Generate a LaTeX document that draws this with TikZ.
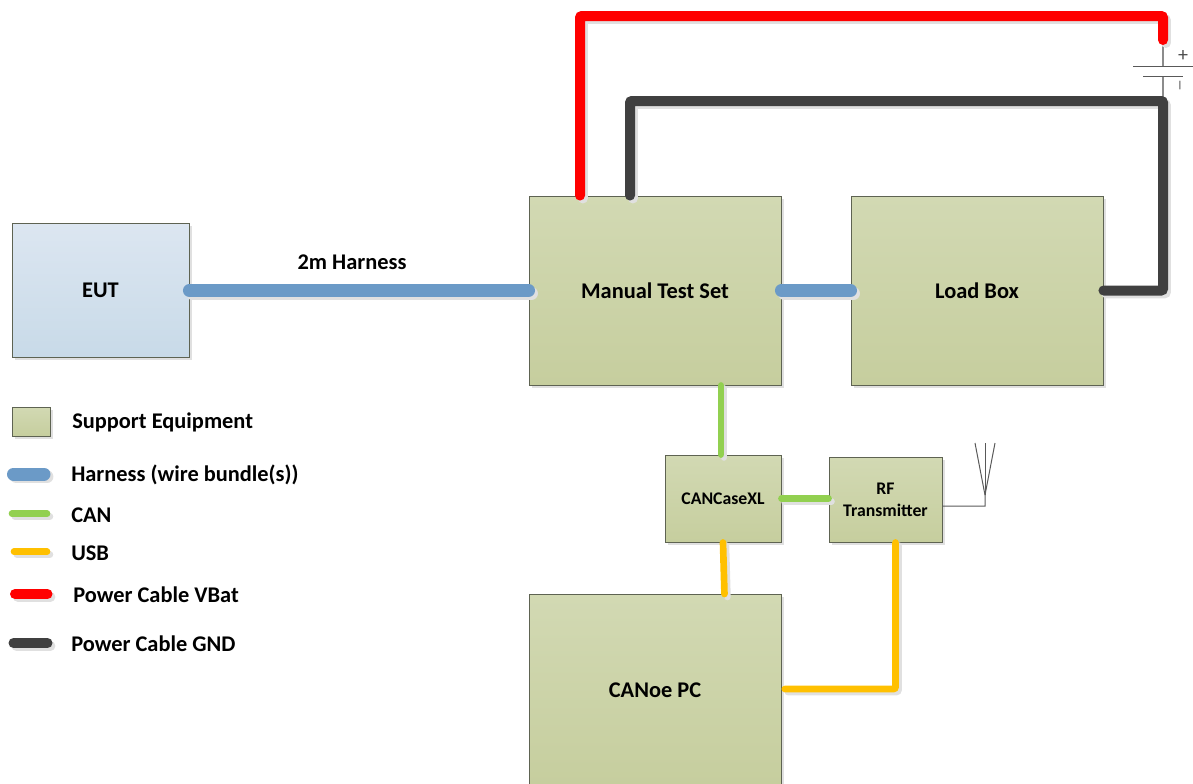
\documentclass[tikz,border=0pt]{standalone}
\usepackage{fontspec}
\setmainfont{Carlito}
\usetikzlibrary{positioning, calc, shadows}
\definecolor{color_box_top}{HTML}{D2D9B3}
\definecolor{color_box_bottom}{HTML}{C6CE9E}
\definecolor{color_box_line}{HTML}{5E6352}
\definecolor{color_eut_top}{HTML}{DCE6F1}
\definecolor{color_eut_bottom}{HTML}{C8DAE8}
\definecolor{color_harness}{HTML}{6B9AC7}
\definecolor{color_can}{HTML}{92D050}
\definecolor{color_usb}{HTML}{FFC000}
\definecolor{color_vbat}{HTML}{FF0000}
\definecolor{color_gnd}{HTML}{404040}
\colorlet{color_shadow}{black!12}
\newcommand{\cable}[2]{
    \draw[#1, draw=color_shadow, transform canvas={xshift=2.2pt, yshift=-2.2pt}] #2;
    \draw[#1] #2;
}

\begin{document}
\begin{tikzpicture}[
    x=0.75pt, y=-0.75pt, font=\fontsize{16.8}{20}\selectfont\bfseries,
    support_box/.style={draw=color_box_line, line width=0.7pt, top color=color_box_top, bottom color=color_box_bottom,
        inner sep=0pt, align=center,
        drop shadow={shadow xshift=2.2pt, shadow yshift=-2.2pt, fill=color_shadow, opacity=1}},
    eut_box/.style={support_box, top color=color_eut_top, bottom color=color_eut_bottom},
    small_box/.style={support_box, font=\fontsize{13.3}{16.5}\selectfont\bfseries},
    wire/.style={line cap=round, rounded corners=1.5pt},
    harness_line/.style={wire, draw=color_harness, line width=9.75pt},
    can_line/.style={wire, draw=color_can, line width=5pt},
    usb_line/.style={wire, draw=color_usb, line width=5pt},
    vbat_line/.style={wire, draw=color_vbat, line width=7.5pt},
    gnd_line/.style={wire, draw=color_gnd, line width=7.5pt},
    legend_text/.style={anchor=west, inner sep=0pt, yshift=-0.9pt},
    thin_line/.style={draw=black!65, line width=0.75pt},
    batt_line/.style={draw=black!45, line width=1pt},
    plate_line/.style={draw=black!65, line width=0.7pt}
]
\useasboundingbox (0,0) rectangle (1193,783);

%% ============================================================
%% EQUIPMENT
%% ============================================================
\node[eut_box, minimum width=132.75pt, minimum height=100.5pt] (eut) at (100.5,290.5) {EUT};
\node[support_box, minimum width=189pt, minimum height=141.75pt] (mts) at (655,290.5) {Manual Test Set};
\node[support_box, minimum width=189pt, minimum height=141.75pt] (loadbox) at (977,290.5) {Load Box};
\node[small_box, minimum width=87pt, minimum height=65.25pt] (cancase) at (723,498.5) {CANCaseXL};
\node[small_box, minimum width=84.75pt, minimum height=63.75pt] (rf) at (885.5,499.5) {RF\\Transmitter};
\node[support_box, minimum width=189pt, minimum height=143.25pt] (canoe) at (655,690) {CANoe PC};
\node (harness_label) at (352,262) {2m Harness};

%% --- Battery ---
\coordinate (batt_plus) at (1163,40);
\coordinate (vbat_top) at (1163,16);
\coordinate (gnd_top) at (1163,101);
\coordinate (plate_a) at (1163,66);
\coordinate (plate_b) at (1163,76);
\draw[batt_line] (batt_plus) -- (plate_a);
\draw[batt_line] (plate_b) -- (gnd_top);
\draw[plate_line] ($(plate_a)+(-30,0)$) -- ($(plate_a)+(30,0)$);
\draw[plate_line] ($(plate_b)+(-20,0)$) -- ($(plate_b)+(20,0)$);
\node[font=\normalfont\fontsize{15}{15}\selectfont, text=black!70, inner sep=0pt] (batt_pos) at (1183,56) {+};
\node[font=\normalfont\fontsize{18}{18}\selectfont, text=black!45, inner sep=0pt, rotate=90] (batt_neg) at (1183,86) {--};

%% --- Antenna ---
\coordinate (ant_foot) at (985,506);
\coordinate (ant_base) at (985,495);
\coordinate (ant_left) at (975,443);
\coordinate (ant_mid) at (985,443);
\coordinate (ant_right) at (995,443);
\draw[thin_line] ([yshift=-4.9pt]rf.east) -- (ant_foot) -- (ant_base);
\foreach \tip in {ant_left, ant_mid, ant_right} { \draw[thin_line] (ant_base) -- (\tip); }

%% ============================================================
%% CABLES
%% ============================================================
\cable{harness_line}{(eut.east) -- (mts.west)}
\cable{harness_line}{(mts.east) -- (loadbox.west)}
\cable{vbat_line}{([xshift=-56.25pt]mts.north) |- (vbat_top) -- (batt_plus)}
\cable{gnd_line}{([xshift=-18.75pt]mts.north) |- (gnd_top) |- (loadbox.east)}
\cable{can_line}{([xshift=-1.5pt]cancase.north |- mts.south) -- ([xshift=-1.5pt]cancase.north)}
\cable{can_line}{(cancase.east) -- (cancase.east -| rf.west)}
\cable{usb_line}{(cancase.south) -- ([xshift=1.1pt]canoe.north -| cancase.south)}
\cable{usb_line}{([xshift=2.5pt,yshift=0.75pt]canoe.east) -| ([xshift=7.5pt]rf.south)}

%% ============================================================
%% LEGEND
%% ============================================================
\node[support_box, minimum width=28.5pt, minimum height=21.75pt] (legend_box) at (31,421.5) {};
\node[legend_text] (legend_support) at (72,421) {Support Equipment};

\foreach \nm/\kind/\xa/\xb/\y/\xt/\txt in {
    harness/harness_line/13.5/44/474/71/{Harness (wire bundle(s))},
    can/can_line/12/47/513.7/71/CAN,
    usb/usb_line/14/47/551.7/71/USB,
    vbat/vbat_line/15/47.5/594/73/Power Cable VBat,
    gnd/gnd_line/13.5/47.5/643/71/Power Cable GND} {
    \coordinate (legend_\nm_a) at (\xa,\y);
    \coordinate (legend_\nm_b) at (\xb,\y);
    \cable{\kind}{(legend_\nm_a) -- (legend_\nm_b)}
    \node[legend_text] (legend_\nm) at (\xt,\y) {\txt};
}

\end{tikzpicture}
\end{document}
